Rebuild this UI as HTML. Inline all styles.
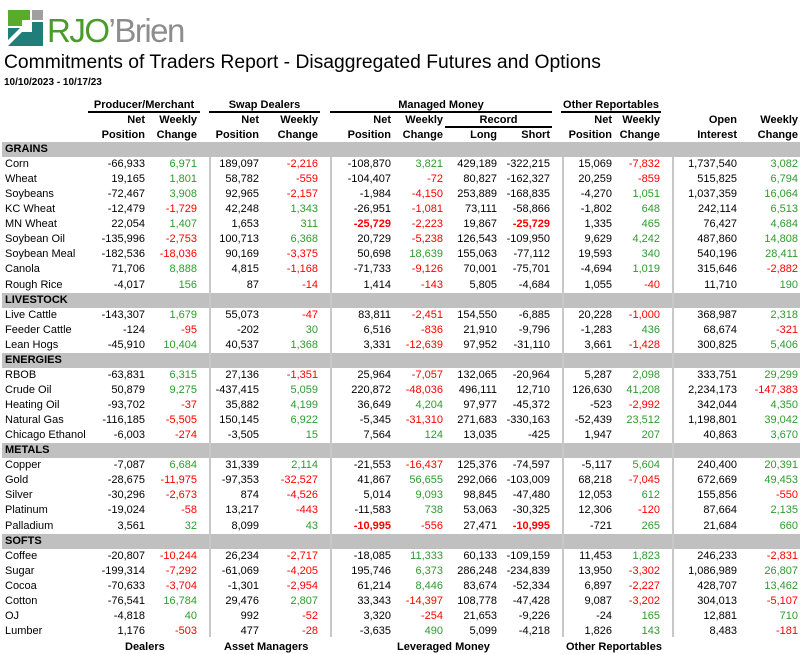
<!DOCTYPE html>
<html><head><meta charset="utf-8">
<style>
body{margin:0;width:809px;height:648px;overflow:hidden;background:#fff;font-family:"Liberation Sans",Arial,sans-serif;position:relative}
.a{position:absolute;white-space:nowrap}
.c{font-size:11px;line-height:15px;text-align:right}
.h{font-size:11px;font-weight:bold;line-height:14px}
.g{color:#2e9b2e}.r{color:#f00}
.band{position:absolute;left:2px;width:798px;height:15px;background:#c0c0c0;font-size:11px;font-weight:bold;line-height:15px;padding-left:3px;box-sizing:border-box}
.ul{position:absolute;height:2px;background:#000}
.vs{position:absolute;width:2px;background:#c8c8c8}
</style></head><body>
<svg class="a" style="left:8px;top:10px" width="35" height="36" viewBox="0 0 35 36">
<polygon points="0,0 22,0 22,10 14,10 14,16 0,16" fill="#5aaa2e"/>
<rect x="24" y="0" width="11" height="10" fill="#a0a0a0"/>
<polygon points="0,36 35,36 35,12 24,12 24,22 14,22" fill="#1f7f78"/>
<polygon points="0,18 12,18 0,30" fill="#1f7f78"/>
</svg>
<div class="a" style="left:47px;top:13px;font-size:33px;line-height:36px;letter-spacing:-1.5px"><span style="color:#4a9a2c">RJO</span><span style="color:#8d8d8d">’Brien</span></div>
<div class="a" style="left:4px;top:51px;font-size:19.3px;line-height:23px">Commitments of Traders Report - Disaggregated Futures and Options</div>
<div class="a" style="left:4px;top:77px;font-size:10px;font-weight:bold">10/10/2023 - 10/17/23</div>

<div class="a h" style="left:88px;width:112px;top:98px;text-align:center">Producer/Merchant</div>
<div class="ul" style="left:88px;width:112px;top:111px"></div>
<div class="a h" style="left:209px;width:111px;top:98px;text-align:center">Swap Dealers</div>
<div class="ul" style="left:209px;width:111px;top:111px"></div>
<div class="a h" style="left:330px;width:222px;top:98px;text-align:center">Managed Money</div>
<div class="ul" style="left:330px;width:222px;top:111px"></div>
<div class="a h" style="left:561px;width:100px;top:98px;text-align:center">Other Reportables</div>
<div class="ul" style="left:561px;width:100px;top:111px"></div>
<div class="a h" style="left:445px;width:107px;top:113px;text-align:center">Record</div>
<div class="ul" style="left:445px;width:107px;top:126px"></div>
<div id="hdr"></div>
<div id="tbl"></div>
<div class="vs" style="left:209px;top:157px;height:480px"></div>
<div class="vs" style="left:330px;top:157px;height:480px"></div>
<div class="vs" style="left:562px;top:157px;height:480px"></div>
<div class="vs" style="left:672px;top:157px;height:480px"></div>
<div class="a h" style="left:125px;top:640px">Dealers</div>
<div class="a h" style="left:224px;top:640px">Asset Managers</div>
<div class="a h" style="left:397px;top:640px">Leveraged Money</div>
<div class="a h" style="left:566px;top:640px">Other Reportables</div>
<script>
const colRight=[145,197,259,318,391,443,497,550,612,660,737,798];
const changeCols=[1,3,5,9,11];
const hdr1=["Net","Weekly","Net","Weekly","Net","Weekly","","","Net","Weekly","Open","Weekly"];
const hdr2=["Position","Change","Position","Change","Position","Change","Long","Short","Position","Change","Interest","Change"];
const sections=["GRAINS","LIVESTOCK","ENERGIES","METALS","SOFTS"];
const rows=[
["GRAINS"],
["Corn","-66,933","6,971","189,097","-2,216","-108,870","3,821","429,189","-322,215","15,069","-7,832","1,737,540","3,082"],
["Wheat","19,165","1,801","58,782","-559","-104,407","-72","80,827","-162,327","20,259","-859","515,825","6,794"],
["Soybeans","-72,467","3,908","92,965","-2,157","-1,984","-4,150","253,889","-168,835","-4,270","1,051","1,037,359","16,064"],
["KC Wheat","-12,479","-1,729","42,248","1,343","-26,951","-1,081","73,111","-58,866","-1,802","648","242,114","6,513"],
["MN Wheat","22,054","1,407","1,653","311","*-25,729","-2,223","19,867","*-25,729","1,335","465","76,427","4,684"],
["Soybean Oil","-135,996","-2,753","100,713","6,368","20,729","-5,238","126,543","-109,950","9,629","4,242","487,860","14,808"],
["Soybean Meal","-182,536","-18,036","90,169","-3,375","50,698","18,639","155,063","-77,112","19,593","340","540,196","28,411"],
["Canola","71,706","8,888","4,815","-1,168","-71,733","-9,126","70,001","-75,701","-4,694","1,019","315,646","-2,882"],
["Rough Rice","-4,017","156","87","-14","1,414","-143","5,805","-4,684","1,055","-40","11,710","190"],
["LIVESTOCK"],
["Live Cattle","-143,307","1,679","55,073","-47","83,811","-2,451","154,550","-6,885","20,228","-1,000","368,987","2,318"],
["Feeder Cattle","-124","-95","-202","30","6,516","-836","21,910","-9,796","-1,283","436","68,674","-321"],
["Lean Hogs","-45,910","10,404","40,537","1,368","3,331","-12,639","97,952","-31,110","3,661","-1,428","300,825","5,406"],
["ENERGIES"],
["RBOB","-63,831","6,315","27,136","-1,351","25,964","-7,057","132,065","-20,964","5,287","2,098","333,751","29,299"],
["Crude Oil","50,879","9,275","-437,415","5,059","220,872","-48,036","496,111","12,710","126,630","41,208","2,234,173","-147,383"],
["Heating Oil","-93,702","-37","35,882","4,199","36,649","4,204","97,977","-45,372","-523","-2,992","342,044","4,350"],
["Natural Gas","-116,185","-5,505","150,145","6,922","-5,345","-31,310","271,683","-330,163","-52,439","23,512","1,198,801","39,042"],
["Chicago Ethanol","-6,003","-274","-3,505","15","7,564","124","13,035","-425","1,947","207","40,863","3,670"],
["METALS"],
["Copper","-7,087","6,684","31,339","2,114","-21,553","-16,437","125,376","-74,597","-5,117","5,604","240,400","20,391"],
["Gold","-28,675","-11,975","-97,353","-32,527","41,867","56,655","292,066","-103,009","68,218","-7,045","672,669","49,453"],
["Silver","-30,296","-2,673","874","-4,526","5,014","9,093","98,845","-47,480","12,053","612","155,856","-550"],
["Platinum","-19,024","-58","13,217","-443","-11,583","738","53,063","-30,325","12,306","-120","87,664","2,135"],
["Palladium","3,561","32","8,099","43","*-10,995","-556","27,471","*-10,995","-721","265","21,684","660"],
["SOFTS"],
["Coffee","-20,807","-10,244","26,234","-2,717","-18,085","11,333","60,133","-109,159","11,453","1,823","246,233","-2,831"],
["Sugar","-199,314","-7,292","-61,069","-4,205","195,746","6,373","286,248","-234,839","13,950","-3,302","1,086,989","26,807"],
["Cocoa","-70,633","-3,704","-1,301","-2,954","61,214","8,446","83,674","-52,334","6,897","-2,227","428,707","13,462"],
["Cotton","-76,541","16,784","29,476","2,807","33,343","-14,397","108,778","-47,428","9,087","-3,202","304,013","-5,107"],
["OJ","-4,818","40","992","-52","3,320","-254","21,653","-9,226","-24","165","12,881","710"],
["Lumber","1,176","-503","477","-28","-3,635","490","5,099","-4,218","1,826","143","8,483","-181"]
];
const hdr=document.getElementById('hdr');
[hdr1,hdr2].forEach((h,k)=>h.forEach((t,j)=>{if(!t)return;
 const d=document.createElement('div');
 
 
 d.className='a h';d.style.left=(colRight[j]-70)+'px';d.style.width='70px';d.style.textAlign='right';
 d.style.top=(113+k*15)+'px';d.textContent=t;hdr.appendChild(d);}));
const tbl=document.getElementById('tbl');
const pitch=15.06, y0=142;
rows.forEach((r,i)=>{
 const top=y0+i*pitch;
 if(r.length===1){const b=document.createElement('div');
  
  
  b.className='band';b.style.top=top+'px';b.textContent=r[0];tbl.appendChild(b);return;}
 const l=document.createElement('div');
 
 
 l.className='a c';l.style.left='5px';l.style.textAlign='left';l.style.top=top+'px';l.textContent=r[0];tbl.appendChild(l);
 for(let j=1;j<r.length;j++){let v=r[j];const d=document.createElement('div');
  
  
  d.className='a c';
  if(v[0]==='*'){v=v.slice(1);d.style.color='#f00';d.style.fontWeight='bold';}
  else if(changeCols.includes(j-1))d.classList.add(v[0]==='-'?'r':'g');
  d.style.left=(colRight[j-1]-80)+'px';d.style.width='80px';d.style.top=top+'px';d.textContent=v;tbl.appendChild(d);}
});
</script>
</body></html>
